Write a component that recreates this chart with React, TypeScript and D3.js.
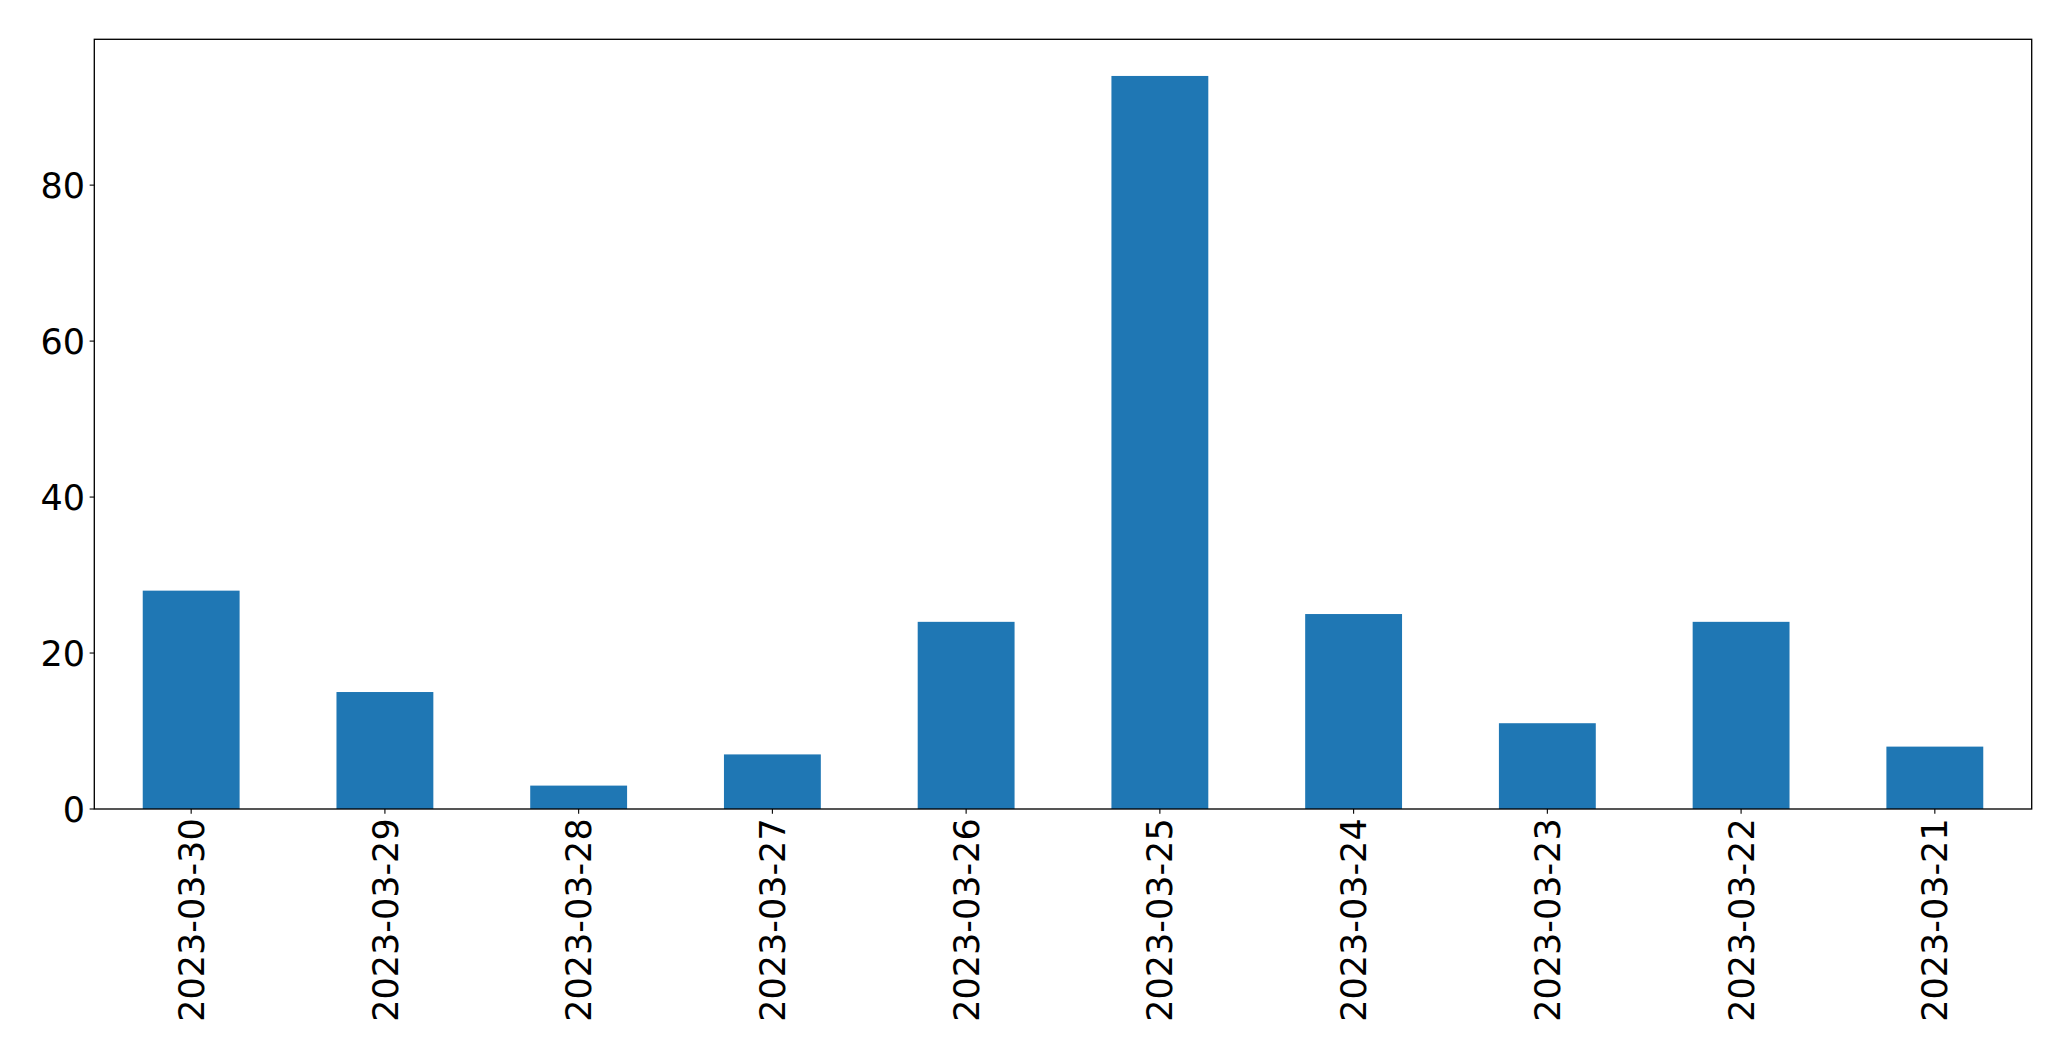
import React from "react";
import * as d3 from "d3";

const categories = ["2023-03-30","2023-03-29","2023-03-28","2023-03-27","2023-03-26","2023-03-25","2023-03-24","2023-03-23","2023-03-22","2023-03-21"];
const values = [28, 15, 3, 7, 24, 94, 25, 11, 24, 8];
const yTicks = [0, 20, 40, 60, 80];

export default function App() {
  const W = 2071, H = 1061;
  const left = 94.3, right = 2031.7, top = 39.3, bottom = 809;
  const n = categories.length;
  const x = d3.scaleLinear().domain([-0.5, n - 0.5]).range([left, right]);
  const y = d3.scaleLinear().domain([0, d3.max(values)! * 1.05]).range([bottom, top]);
  const bw = x(0.25) - x(-0.25);
  const font = "'DejaVu Sans', sans-serif";
  const fs = 35;
  const tickLen = 4.67, pad = 4.67;
  return (
    <svg width={W} height={H} style={{ position: "absolute", left: 0, top: 0 }}>
      <rect x={0} y={0} width={W} height={H} fill="#fff" />
      {values.map((v, i) => (
        <rect key={i} x={x(i) - bw / 2} y={y(v)} width={bw} height={y(0) - y(v)} fill="#1f77b4" />
      ))}
      <rect x={left} y={top} width={right - left} height={bottom - top} fill="none" stroke="#000" strokeWidth={1.33} />
      {yTicks.map((t) => (
        <g key={t}>
          <line x1={left - tickLen} x2={left} y1={y(t)} y2={y(t)} stroke="#000" strokeWidth={1.1} />
          <text x={left - tickLen - pad} y={y(t)} dy="0.36em" textAnchor="end" fontFamily={font} fontSize={fs} fill="#000">{t}</text>
        </g>
      ))}
      {categories.map((c, i) => (
        <g key={c}>
          <line x1={x(i)} x2={x(i)} y1={bottom} y2={bottom + tickLen} stroke="#000" strokeWidth={1.1} />
          <text transform={`translate(${x(i)},${bottom + tickLen + pad}) rotate(-90)`} textAnchor="end" dy="0.36em" fontFamily={font} fontSize={fs} fill="#000">{c}</text>
        </g>
      ))}
    </svg>
  );
}
